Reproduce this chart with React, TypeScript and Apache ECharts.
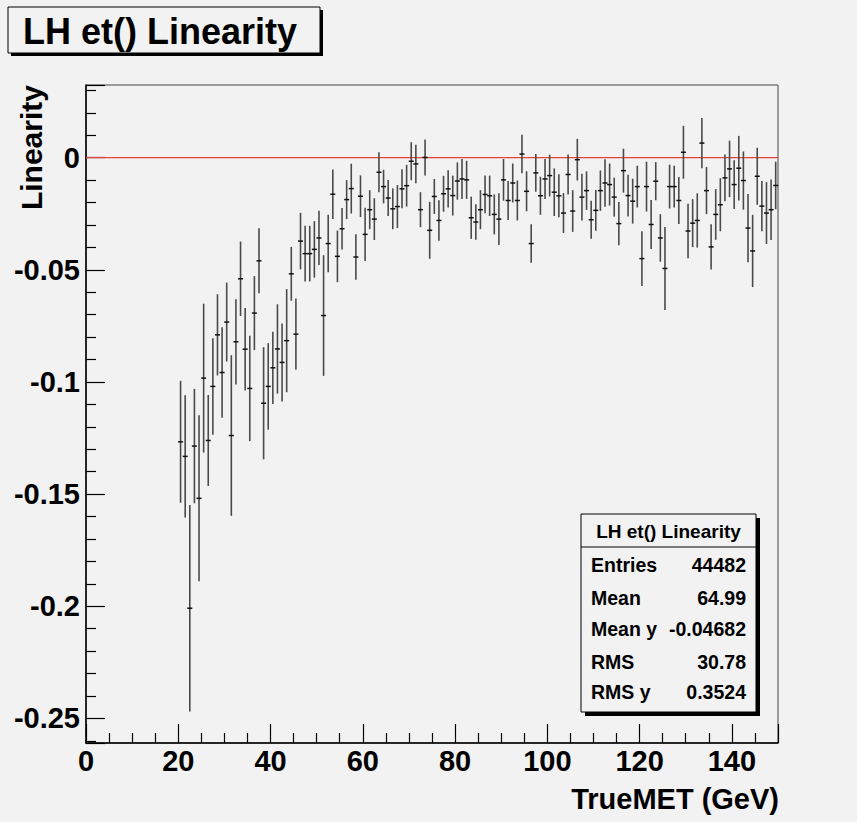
import React, { useEffect, useRef } from "react";
import * as echarts from "echarts";

// TrueMET bin centres (GeV), 1 GeV bins
const binCenters = [
  20.5, 21.5, 22.5, 23.5, 24.5, 25.5, 26.5, 27.5, 28.5, 29.5,
  30.5, 31.5, 32.5, 33.5, 34.5, 35.5, 36.5, 37.5, 38.5, 39.5,
  40.5, 41.5, 42.5, 43.5, 44.5, 45.5, 46.5, 47.5, 48.5, 49.5,
  50.5, 51.5, 52.5, 53.5, 54.5, 55.5, 56.5, 57.5, 58.5, 59.5,
  60.5, 61.5, 62.5, 63.5, 64.5, 65.5, 66.5, 67.5, 68.5, 69.5,
  70.5, 71.5, 72.5, 73.5, 74.5, 75.5, 76.5, 77.5, 78.5, 79.5,
  80.5, 81.5, 82.5, 83.5, 84.5, 85.5, 86.5, 87.5, 88.5, 89.5,
  90.5, 91.5, 92.5, 93.5, 94.5, 95.5, 96.5, 97.5, 98.5, 99.5,
  100.5, 101.5, 102.5, 103.5, 104.5, 105.5, 106.5, 107.5, 108.5, 109.5,
  110.5, 111.5, 112.5, 113.5, 114.5, 115.5, 116.5, 117.5, 118.5, 119.5,
  120.5, 121.5, 122.5, 123.5, 124.5, 125.5, 126.5, 127.5, 128.5, 129.5,
  130.5, 131.5, 132.5, 133.5, 134.5, 135.5, 136.5, 137.5, 138.5, 139.5,
  140.5, 141.5, 142.5, 143.5, 144.5, 145.5, 146.5, 147.5, 148.5, 149.5,
];

// Profile mean (Linearity) per bin
const linearity = [
  -0.1267, -0.1332, -0.2009, -0.1286, -0.1519, -0.0983, -0.1261, -0.1020, -0.0790, -0.0958,
  -0.0733, -0.1239, -0.0821, -0.0540, -0.0854, -0.1029, -0.0693, -0.0460, -0.1095, -0.1020,
  -0.0937, -0.0853, -0.0913, -0.0816, -0.0518, -0.0787, -0.0372, -0.0428, -0.0428, -0.0409,
  -0.0358, -0.0704, -0.0383, -0.0163, -0.0440, -0.0317, -0.0187, -0.0138, -0.0443, -0.0172,
  -0.0342, -0.0232, -0.0274, -0.0065, -0.0129, -0.0180, -0.0228, -0.0218, -0.0139, -0.0125,
  -0.0016, -0.0028, -0.0232, 0.0001, -0.0324, -0.0173, -0.0280, -0.0161, -0.0139, -0.0169,
  -0.0104, -0.0095, -0.0099, -0.0268, -0.0287, -0.0232, -0.0164, -0.0170, -0.0253, -0.0274,
  -0.0099, -0.0191, -0.0113, -0.0191, 0.0016, -0.0150, -0.0383, -0.0068, -0.0170, -0.0095,
  -0.0080, -0.0154, -0.0170, -0.0247, -0.0075, -0.0238, -0.0009, -0.0176, -0.0147, -0.0277,
  -0.0235, -0.0147, -0.0113, -0.0120, -0.0176, -0.0294, -0.0058, -0.0169, -0.0194, -0.0129,
  -0.0450, -0.0129, -0.0298, -0.0105, -0.0358, -0.0494, -0.0129, -0.0129, -0.0191, 0.0024,
  -0.0327, -0.0292, -0.0280, 0.0065, -0.0147, -0.0398, -0.0253, -0.0210, -0.0090, -0.0050,
  -0.0120, -0.0047, -0.0102, -0.0314, -0.0416, -0.0083, -0.0216, -0.0247, -0.0232, -0.0124,
];

// Error on the mean per bin
const linearityErr = [
  0.0272, 0.0273, 0.0460, 0.0255, 0.0370, 0.0332, 0.0203, 0.0215, 0.0181, 0.0202,
  0.0176, 0.0358, 0.0190, 0.0166, 0.0184, 0.0235, 0.0165, 0.0145, 0.0250, 0.0193,
  0.0161, 0.0199, 0.0174, 0.0230, 0.0120, 0.0159, 0.0126, 0.0124, 0.0124, 0.0126,
  0.0121, 0.0269, 0.0128, 0.0110, 0.0115, 0.0093, 0.0087, 0.0111, 0.0101, 0.0093,
  0.0119, 0.0087, 0.0093, 0.0089, 0.0075, 0.0080, 0.0091, 0.0096, 0.0087, 0.0093,
  0.0085, 0.0086, 0.0078, 0.0080, 0.0127, 0.0078, 0.0090, 0.0080, 0.0083, 0.0089,
  0.0083, 0.0089, 0.0085, 0.0094, 0.0079, 0.0087, 0.0084, 0.0090, 0.0089, 0.0115,
  0.0093, 0.0087, 0.0087, 0.0089, 0.0086, 0.0089, 0.0086, 0.0084, 0.0085, 0.0089,
  0.0093, 0.0106, 0.0096, 0.0089, 0.0089, 0.0093, 0.0093, 0.0104, 0.0086, 0.0085,
  0.0091, 0.0090, 0.0106, 0.0094, 0.0087, 0.0096, 0.0098, 0.0093, 0.0100, 0.0093,
  0.0122, 0.0111, 0.0109, 0.0085, 0.0106, 0.0185, 0.0098, 0.0093, 0.0105, 0.0118,
  0.0122, 0.0107, 0.0121, 0.0112, 0.0105, 0.0101, 0.0113, 0.0118, 0.0104, 0.0126,
  0.0109, 0.0144, 0.0130, 0.0152, 0.0161, 0.0127, 0.0112, 0.0138, 0.0135, 0.0106,
];

const referenceLine = [
  [0, 0],
  [150, 0],
];

const titleText = "LH et() Linearity";
const xAxisTitle = "TrueMET (GeV)";
const yAxisTitle = "Linearity";
const statsTitle = "LH et() Linearity";
const statLabels = ["Entries", "Mean", "Mean y", "RMS", "RMS y"];
const statValues = ["44482", "64.99", "-0.04682", "30.78", "0.3524"];

const FONT = "'Liberation Sans', Helvetica, Arial, sans-serif";

export default function App() {
  const ref = useRef<HTMLDivElement>(null);

  useEffect(() => {
    document.body.style.margin = "0";
    if (!ref.current) return;
    const chart = echarts.init(ref.current, null, { renderer: "svg" });

    const profileData = binCenters.map((x, i) => [x, linearity[i], linearityErr[i]]);

    const statsLeft = 581;
    const statsTop = 514;
    const statsW = 175;
    const statsH = 198;
    const rowY = [565, 598, 629, 662, 692];

    const statsChildren: any[] = [
      { type: "rect", shape: { x: statsLeft + 4, y: statsTop + 4, width: statsW, height: statsH }, style: { fill: "#000" } },
      { type: "rect", shape: { x: statsLeft, y: statsTop, width: statsW, height: statsH }, style: { fill: "#f2f2f2", stroke: "#000", lineWidth: 1 } },
      { type: "line", shape: { x1: statsLeft, y1: 547, x2: statsLeft + statsW, y2: 547 }, style: { stroke: "#000", lineWidth: 1 } },
      {
        type: "text",
        x: statsLeft + statsW / 2,
        y: 531,
        style: { text: statsTitle, font: `bold 19px ${FONT}`, fill: "#000", align: "center", verticalAlign: "middle" },
      },
    ];
    statLabels.forEach((lab, i) => {
      statsChildren.push({
        type: "text",
        x: 591,
        y: rowY[i],
        style: { text: lab, font: `bold 19.5px ${FONT}`, fill: "#000", align: "left", verticalAlign: "middle" },
      });
      statsChildren.push({
        type: "text",
        x: 746,
        y: rowY[i],
        style: { text: statValues[i], font: `bold 19.5px ${FONT}`, fill: "#000", align: "right", verticalAlign: "middle" },
      });
    });

    const option: any = {
      animation: false,
      backgroundColor: "#f2f2f2",
      grid: {
        left: 86,
        right: 79,
        top: 85,
        bottom: 79,
        show: true,
        borderColor: "#444",
        borderWidth: 1,
        backgroundColor: "transparent",
      },
      xAxis: {
        type: "value",
        min: 0,
        max: 150,
        minInterval: 20,
        maxInterval: 20,
        splitNumber: 8,
        axisLine: { show: true, onZero: false, lineStyle: { color: "#000", width: 1.5 } },
        axisTick: { show: true, inside: true, length: 19, lineStyle: { color: "#000", width: 1.2 } },
        minorTick: { show: true, splitNumber: 4, length: 10, lineStyle: { color: "#000", width: 1.2 } },
        splitLine: { show: false },
        axisLabel: {
          color: "#000",
          fontSize: 29,
          fontWeight: "bold",
          fontFamily: FONT,
          margin: 3,
          formatter: (v: number) => (Math.abs(v / 20 - Math.round(v / 20)) < 1e-6 ? String(Math.round(v)) : ""),
        },
      },
      yAxis: {
        type: "value",
        min: -0.261,
        max: 0.0324,
        minInterval: 0.05,
        maxInterval: 0.05,
        splitNumber: 6,
        axisLine: { show: true, onZero: false, lineStyle: { color: "#000", width: 1.5 } },
        axisTick: { show: true, inside: true, length: 19, lineStyle: { color: "#000", width: 1.2 } },
        minorTick: { show: true, splitNumber: 5, length: 10, lineStyle: { color: "#000", width: 1.2 } },
        splitLine: { show: false },
        axisLabel: {
          color: "#000",
          fontSize: 29,
          fontWeight: "bold",
          fontFamily: FONT,
          margin: 6,
          formatter: (v: number) => {
            const k = v / 0.05;
            if (Math.abs(k - Math.round(k)) > 1e-6) return "";
            const r = Math.round(v * 100) / 100;
            return r === 0 ? "0" : String(r);
          },
        },
      },
      series: [
        {
          type: "line",
          data: referenceLine,
          symbol: "none",
          lineStyle: { color: "#e8413f", width: 1.1 },
          z: 1,
          silent: true,
        },
        {
          type: "custom",
          data: profileData,
          z: 3,
          renderItem: (params: any, api: any) => {
            const x = api.value(0);
            const y = api.value(1);
            const e = api.value(2);
            const top = api.coord([x, y + e]);
            const bot = api.coord([x, y - e]);
            const c = api.coord([x, y]);
            return {
              type: "group",
              children: [
                {
                  type: "line",
                  shape: { x1: top[0], y1: top[1], x2: bot[0], y2: bot[1] },
                  style: { stroke: "#4a4a4a", lineWidth: 1.6 },
                },
                {
                  type: "line",
                  shape: { x1: c[0] - 2.5, y1: c[1], x2: c[0] + 2.5, y2: c[1] },
                  style: { stroke: "#111", lineWidth: 1.5 },
                },
              ],
            };
          },
        },
      ],
      graphic: [
        // title box
        { type: "rect", shape: { x: 11, y: 10, width: 312, height: 46 }, style: { fill: "#000" } },
        { type: "rect", shape: { x: 8, y: 7, width: 312, height: 46 }, style: { fill: "#f2f2f2", stroke: "#000", lineWidth: 1 } },
        {
          type: "text",
          x: 23,
          y: 31,
          style: { text: titleText, font: `bold 36px ${FONT}`, fill: "#000", align: "left", verticalAlign: "middle" },
        },
        // axis titles
        {
          type: "text",
          x: 779,
          y: 799,
          style: { text: xAxisTitle, font: `bold 29px ${FONT}`, fill: "#000", align: "right", verticalAlign: "middle" },
        },
        {
          type: "text",
          x: 31,
          y: 85,
          rotation: Math.PI / 2,
          style: { text: yAxisTitle, font: `bold 30px ${FONT}`, fill: "#000", align: "right", verticalAlign: "middle" },
        },
        { type: "group", children: statsChildren },
      ],
    };

    chart.setOption(option);
    return () => chart.dispose();
  }, []);

  return <div ref={ref} style={{ width: 857, height: 822 }} />;
}
